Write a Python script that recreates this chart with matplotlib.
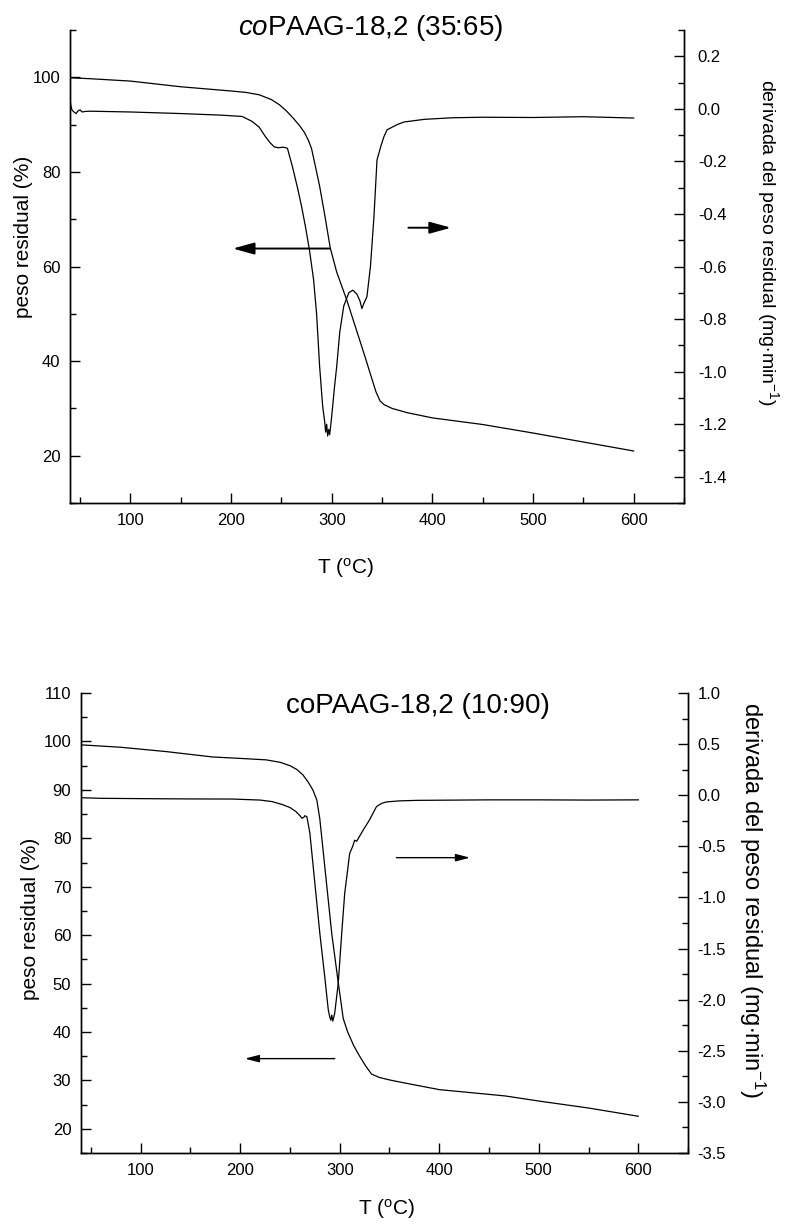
import matplotlib
matplotlib.use("Agg")
import matplotlib.pyplot as plt
from matplotlib.ticker import MultipleLocator, FormatStrFormatter
from matplotlib.patches import ArrowStyle

plt.rcParams['font.family'] = ['Liberation Sans', 'DejaVu Sans']
plt.rcParams['mathtext.fontset'] = 'custom'
plt.rcParams['mathtext.rm'] = 'Liberation Sans'
plt.rcParams['mathtext.it'] = 'Liberation Sans:italic'
plt.rcParams['axes.unicode_minus'] = False

# --- panel 1: coPAAG-18,2 (35:65) ---
tga1_T = [40, 60, 100, 150, 200, 215, 228, 240, 248, 255, 262, 268, 273, 277, 280, 284,
          288, 293, 298.5, 305, 315, 325, 333, 340, 344, 348, 352, 360, 375, 400, 450,
          500, 550, 600]
tga1_W = [99.9, 99.7, 99.2, 98.0, 97.1, 96.8, 96.3, 95.3, 94.2, 92.9, 91.3, 89.8, 88.3,
          86.6, 84.9, 81.0, 77.0, 71.0, 64.0, 58.8, 52.9, 46.3, 41.0, 36.2, 33.5, 31.6,
          30.8, 30.0, 29.1, 28.0, 26.6, 24.8, 22.9, 21.0]

dtg1_T = [40, 41, 42, 44, 46, 48, 50, 52, 55, 60, 100, 150, 190, 211, 221, 228, 234, 239,
          243, 247, 252, 256, 261, 266, 270, 274, 278, 282, 285, 288, 291, 293, 294, 295,
          296, 297, 298, 300, 303, 305, 308, 312, 317, 321, 325, 328, 330, 332, 335, 338.5,
          342, 345, 349, 352, 355, 365, 372, 392, 420, 450, 500, 550, 600]
dtg1_D = [0.035, 0.01, -0.005, -0.012, -0.018, -0.008, -0.004, -0.012, -0.010, -0.009,
          -0.012, -0.018, -0.024, -0.029, -0.048, -0.07, -0.105, -0.13, -0.145, -0.148,
          -0.146, -0.15, -0.22, -0.30, -0.37, -0.45, -0.54, -0.65, -0.78, -0.98, -1.13,
          -1.19, -1.23, -1.20, -1.245, -1.22, -1.24, -1.17, -1.05, -0.98, -0.85, -0.75,
          -0.70, -0.69, -0.705, -0.73, -0.76, -0.74, -0.715, -0.60, -0.41, -0.195, -0.14,
          -0.105, -0.08, -0.06, -0.05, -0.04, -0.034, -0.032, -0.033, -0.030, -0.035]

# --- panel 2: coPAAG-18,2 (10:90) ---
tga2_T = [40, 80, 126, 172, 200, 226, 240, 250, 257, 263, 268, 273, 277, 280, 285, 292,
          298, 303.5, 308, 314, 320, 326, 332, 340, 350, 364.5, 400, 466, 501.5, 550, 600]
tga2_W = [99.3, 98.8, 97.9, 96.8, 96.5, 96.2, 95.7, 95.0, 94.2, 93.1, 91.7, 90.0, 87.9,
          84.0, 74.1, 60.3, 51.0, 42.8, 40.0, 37.2, 35.0, 33.0, 31.3, 30.6, 30.1, 29.5,
          28.1, 26.8, 25.7, 24.3, 22.6]

dtg2_T = [40, 60, 100, 150, 192, 220, 232, 242, 250, 256, 260, 262, 264, 265, 267, 270,
          275, 280, 285, 288.5, 290, 291, 292, 293, 295, 298.5, 302, 305, 310, 313, 315,
          317, 320, 323.6, 330, 337, 342, 347, 360, 377, 450, 500, 550, 600]
dtg2_D = [-0.024, -0.03, -0.033, -0.036, -0.037, -0.047, -0.062, -0.09, -0.12, -0.16,
          -0.2, -0.225, -0.215, -0.20, -0.21, -0.37, -0.86, -1.35, -1.78, -2.10, -2.17,
          -2.20, -2.15, -2.21, -2.13, -1.84, -1.35, -0.96, -0.57, -0.50, -0.44, -0.45,
          -0.40, -0.34, -0.24, -0.11, -0.08, -0.065, -0.055, -0.05, -0.045, -0.045,
          -0.047, -0.045]

# arrows: (tail T, tip T, weight level)
arrows1 = [(297.6, 201.8, 63.8), (376.2, 418.5, 68.2)]
arrows2 = [(295.0, 204.6, 34.5), (357.0, 431.0, 76.0)]

xlabel = r'T ($^\mathrm{o}$C)'
ylabel_l = 'peso residual (%)'
ylabel_r = r'derivada del peso residual (mg$\cdot$min$^{-1}$)'

fig = plt.figure(figsize=(7.91, 12.29), dpi=100)


def style_axes(ax, ax2, ymaj, ymin, rmaj, rmin, rfmt, rpad):
    ax.spines['top'].set_visible(False)
    ax2.spines['top'].set_visible(False)
    for s in ax.spines.values():
        s.set_linewidth(1.0)
    for s in ax2.spines.values():
        s.set_linewidth(1.0)
    ax.set_xlim(40, 650)
    ax.xaxis.set_major_locator(MultipleLocator(100))
    ax.xaxis.set_minor_locator(MultipleLocator(50))
    ax.yaxis.set_major_locator(MultipleLocator(ymaj))
    ax.yaxis.set_minor_locator(MultipleLocator(ymin))
    ax2.yaxis.set_major_locator(MultipleLocator(rmaj))
    ax2.yaxis.set_minor_locator(MultipleLocator(rmin))
    ax2.yaxis.set_major_formatter(FormatStrFormatter(rfmt))
    ax.tick_params(which='both', direction='in', labelsize=12, width=1.0, pad=7)
    ax.tick_params(which='major', length=7)
    ax.tick_params(which='minor', length=4)
    ax.tick_params(axis='x', top=False)
    ax2.tick_params(which='both', direction='in', labelsize=12, width=1.0, pad=rpad)
    ax2.tick_params(which='major', length=7)
    ax2.tick_params(which='minor', length=4)


def draw_arrows(ax, arrows, hl, hw, lw):
    style = ArrowStyle('-|>', head_length=hl, head_width=hw)
    for tail, tip, y in arrows:
        ax.annotate('', xy=(tip, y), xytext=(tail, y),
                    arrowprops=dict(arrowstyle=style, lw=lw, color='black',
                                    shrinkA=0, shrinkB=0, mutation_scale=1))


# top panel
ax = fig.add_axes([0.0885, 0.5907, 0.7762, 0.3849])
ax2 = ax.twinx()
ax.plot(tga1_T, tga1_W, color='black', lw=0.9)
ax2.plot(dtg1_T, dtg1_D, color='black', lw=0.9)
ax.set_ylim(10, 110)
ax2.set_ylim(-1.5, 0.3)
style_axes(ax, ax2, 20, 10, 0.2, 0.1, '%.1f', 10)
draw_arrows(ax, arrows1, 13, 3.6, 1.4)
ax.set_xlabel(xlabel, fontsize=15)
ax.xaxis.set_label_coords(0.448, -0.112)
ax.set_ylabel(ylabel_l, fontsize=15, va='center')
ax.yaxis.set_label_coords(-0.075, 0.562)
ax2.set_ylabel(ylabel_r, fontsize=14, rotation=-90, va='center')
ax2.yaxis.set_label_coords(1.137, 0.55)
ax.text(0.49, 1.004, r'$\mathit{co}$PAAG-18,2 (35:65)', transform=ax.transAxes,
        ha='center', va='center', fontsize=20)

# bottom panel
bx = fig.add_axes([0.1024, 0.0618, 0.7674, 0.3743])
bx2 = bx.twinx()
bx.plot(tga2_T, tga2_W, color='black', lw=0.9)
bx2.plot(dtg2_T, dtg2_D, color='black', lw=0.9)
bx.set_ylim(15, 110)
bx2.set_ylim(-3.5, 1.0)
style_axes(bx, bx2, 10, 5, 0.5, 0.25, '%.1f', 7)
draw_arrows(bx, arrows2, 8.5, 2.2, 1.0)
bx.set_xlabel(xlabel, fontsize=15)
bx.xaxis.set_label_coords(0.504, -0.096)
bx.set_ylabel(ylabel_l, fontsize=15, va='center')
bx.yaxis.set_label_coords(-0.084, 0.509)
bx2.set_ylabel(ylabel_r, fontsize=17, rotation=-90, va='center')
bx2.yaxis.set_label_coords(1.105, 0.55)
bx.text(0.555, 0.972, 'coPAAG-18,2 (10:90)', transform=bx.transAxes,
        ha='center', va='center', fontsize=20)

fig.savefig('out.png', dpi=100)
